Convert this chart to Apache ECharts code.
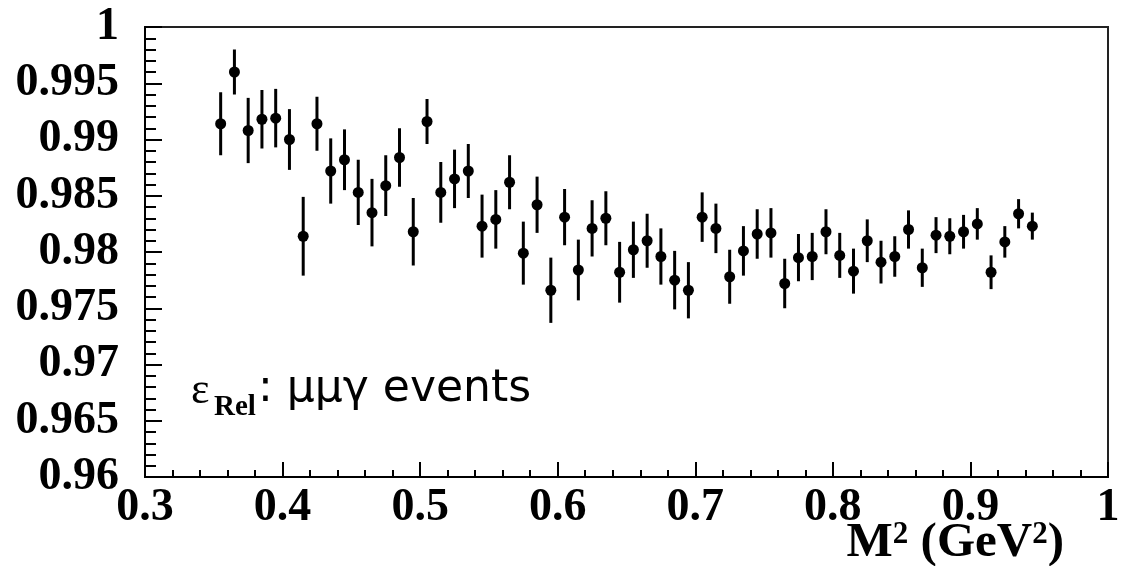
<!DOCTYPE html>
<html>
<head>
<meta charset="utf-8">
<script src="https://cdn.jsdelivr.net/npm/echarts@6/dist/echarts.min.js"></script>
<style>
  html, body { margin: 0; padding: 0; background: #fff; }
  #chart { width: 1128px; height: 566px; }
</style>
</head>
<body>
<div id="chart"></div>
<script>
// Bin centres in M^2 (GeV^2)
const massSq = [
  0.355, 0.365, 0.375, 0.385, 0.395, 0.405, 0.415, 0.425, 0.435, 0.445,
  0.455, 0.465, 0.475, 0.485, 0.495, 0.505, 0.515, 0.525, 0.535, 0.545,
  0.555, 0.565, 0.575, 0.585, 0.595, 0.605, 0.615, 0.625, 0.635, 0.645,
  0.655, 0.665, 0.675, 0.685, 0.695, 0.705, 0.715, 0.725, 0.735, 0.745,
  0.755, 0.765, 0.775, 0.785, 0.795, 0.805, 0.815, 0.825, 0.835, 0.845,
  0.855, 0.865, 0.875, 0.885, 0.895, 0.905, 0.915, 0.925, 0.935, 0.945
];
// Relative efficiency per bin
const effRel = [
  0.9914, 0.9960, 0.9908, 0.9918, 0.9919, 0.9900, 0.9814, 0.9914, 0.9872, 0.9882,
  0.9853, 0.9835, 0.9859, 0.9884, 0.9818, 0.9916, 0.9853, 0.9865, 0.9872, 0.9823,
  0.9829, 0.9862, 0.9799, 0.9842, 0.9766, 0.9831, 0.9784, 0.9821, 0.9830, 0.9782,
  0.9802, 0.9810, 0.9796, 0.9775, 0.9766, 0.9831, 0.9821, 0.9778, 0.9801, 0.9816,
  0.9817, 0.9772, 0.9795, 0.9796, 0.9818, 0.9797, 0.9783, 0.9810, 0.9791, 0.9796,
  0.9820, 0.9786, 0.9815, 0.9814, 0.9818, 0.9825, 0.9782, 0.9809, 0.9834, 0.9823
];
// Statistical uncertainty per bin
const effErr = [
  0.0028, 0.0020, 0.0029, 0.0026, 0.0026, 0.0027, 0.0035, 0.0024, 0.0029, 0.0027,
  0.0029, 0.0030, 0.0027, 0.0026, 0.0030, 0.0020, 0.0027, 0.0026, 0.0024, 0.0028,
  0.0026, 0.0024, 0.0028, 0.0025, 0.0029, 0.0025, 0.0027, 0.0025, 0.0024, 0.0027,
  0.0025, 0.0024, 0.0025, 0.0026, 0.0025, 0.0022, 0.0022, 0.0024, 0.0022, 0.0022,
  0.0022, 0.0022, 0.0021, 0.0021, 0.0020, 0.0020, 0.0020, 0.0019, 0.0019, 0.0018,
  0.0017, 0.0017, 0.0016, 0.0016, 0.0015, 0.0014, 0.0015, 0.0014, 0.0013, 0.0012
];
const xTickLabels = ['0.3', '0.4', '0.5', '0.6', '0.7', '0.8', '0.9', '1'];
const yTickLabels = ['0.96', '0.965', '0.97', '0.975', '0.98', '0.985', '0.99', '0.995', '1'];

const X_MIN = 0.3, X_STEP = 0.1, Y_MIN = 0.96, Y_STEP = 0.005;

const points = massSq.map((x, i) => [x, effRel[i]]);
const bars = massSq.map((x, i) => [x, effRel[i] - effErr[i], effRel[i] + effErr[i]]);

const serif = '"Liberation Serif", "Times New Roman", serif';
const labelStyle = { fontFamily: serif, fontWeight: 'bold', fontSize: 46, color: '#000' };

const chart = echarts.init(document.getElementById('chart'), null, { renderer: 'canvas' });

chart.setOption({
  animation: false,
  backgroundColor: '#fff',
  grid: {
    left: 145, right: 20, top: 27, bottom: 89,
    show: true, borderColor: '#222', borderWidth: 2, backgroundColor: 'transparent'
  },
  xAxis: {
    type: 'value', min: X_MIN, max: 1, interval: X_STEP,
    axisLine: { show: true, onZero: false, lineStyle: { color: '#000', width: 2 } },
    axisTick: { show: true, inside: true, length: 15, lineStyle: { color: '#000', width: 2 } },
    minorTick: { show: true, splitNumber: 5, length: 7, lineStyle: { color: '#000', width: 2 } },
    splitLine: { show: false },
    axisLabel: Object.assign({
      margin: 8,
      formatter: v => xTickLabels[Math.round((v - X_MIN) / X_STEP)]
    }, labelStyle)
  },
  yAxis: {
    type: 'value', min: Y_MIN, max: 1, interval: Y_STEP,
    axisLine: { show: true, onZero: false, lineStyle: { color: '#000', width: 2 } },
    axisTick: { show: true, inside: true, length: 17, lineStyle: { color: '#000', width: 2 } },
    minorTick: { show: true, splitNumber: 5, length: 11, lineStyle: { color: '#000', width: 2 } },
    splitLine: { show: false },
    axisLabel: Object.assign({
      margin: 26,
      formatter: v => yTickLabels[Math.round((v - Y_MIN) / Y_STEP)]
    }, labelStyle)
  },
  series: [
    {
      type: 'custom',
      data: bars,
      z: 2,
      renderItem: (params, api) => {
        const top = api.coord([api.value(0), api.value(2)]);
        const bot = api.coord([api.value(0), api.value(1)]);
        return {
          type: 'line',
          shape: { x1: top[0], y1: top[1], x2: bot[0], y2: bot[1] },
          style: { stroke: '#000', lineWidth: 3 }
        };
      }
    },
    {
      type: 'scatter',
      data: points,
      z: 3,
      symbol: 'circle',
      symbolSize: 11,
      itemStyle: { color: '#000', opacity: 1 }
    }
  ],
  graphic: [
    {
      type: 'text', left: 191, top: 369,
      style: { text: 'ε', font: '44px ' + serif, fill: '#000' }
    },
    {
      type: 'text', left: 214, top: 393,
      style: { text: 'Rel', font: 'bold 29px ' + serif, fill: '#000' }
    },
    {
      type: 'text', left: 258, top: 368,
      style: { text: ': μμγ events', font: '44px "DejaVu Sans", sans-serif', fill: '#000' }
    },
    {
      type: 'text', right: 64, top: 519,
      style: {
        text: '{b|M}{s|2}{b| (GeV}{s|2}{b|)}',
        rich: {
          b: { fontFamily: serif, fontWeight: 'bold', fontSize: 49, color: '#000', verticalAlign: 'bottom' },
          s: { fontFamily: serif, fontWeight: 'bold', fontSize: 31, color: '#000', verticalAlign: 'top' }
        }
      }
    }
  ]
});
</script>
</body>
</html>
